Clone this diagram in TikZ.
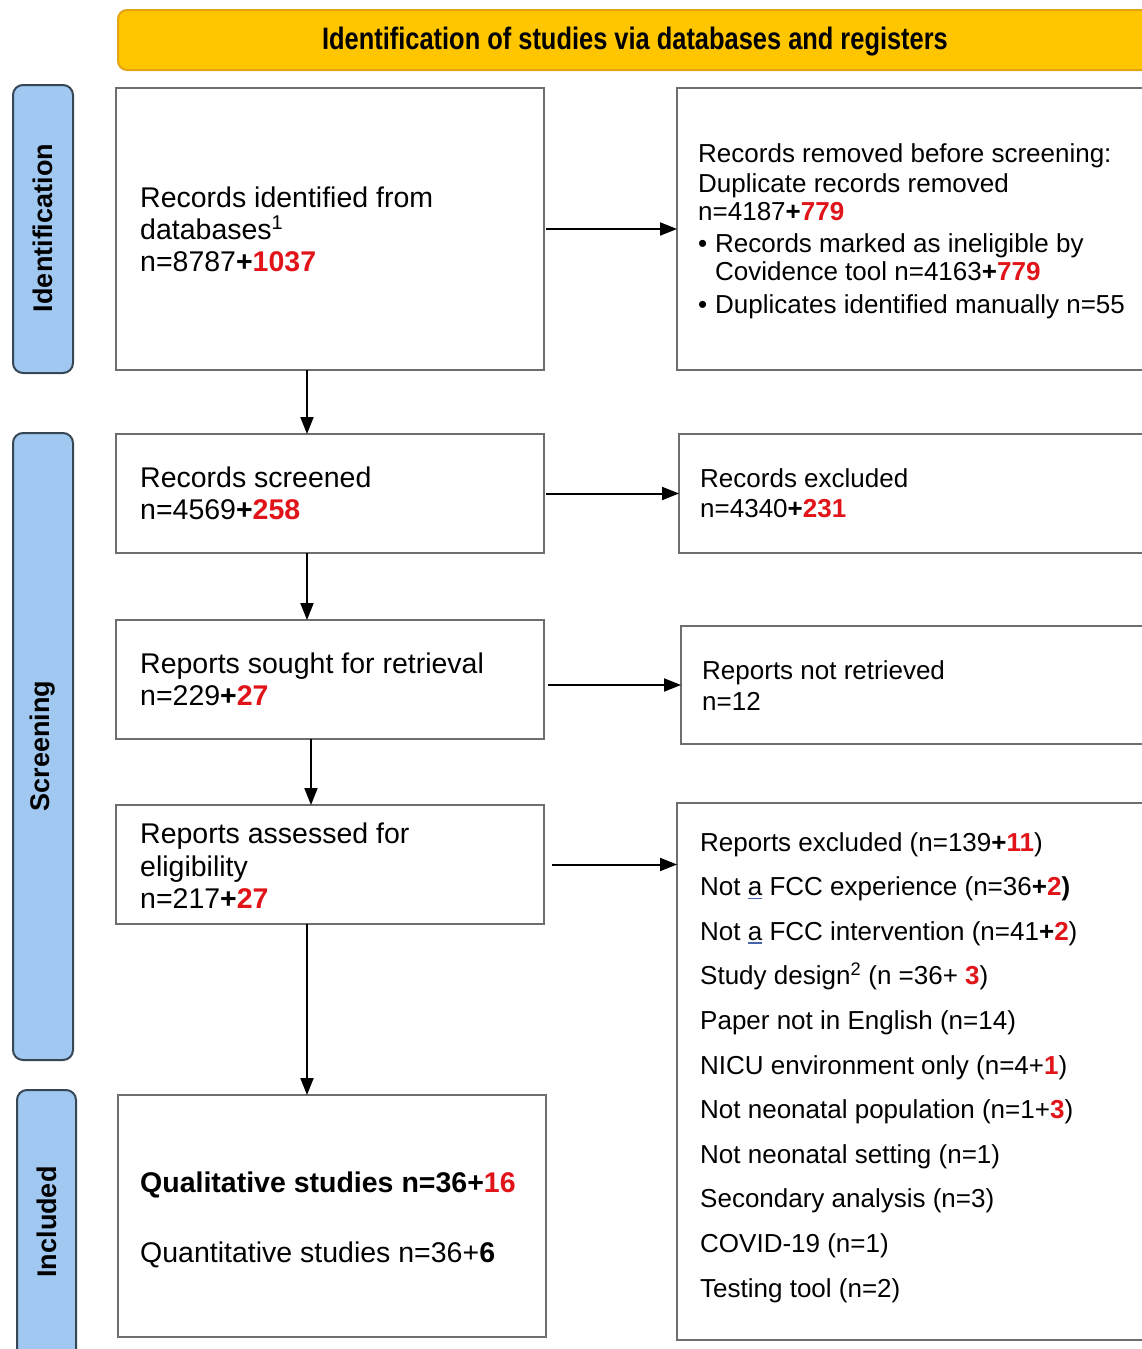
\documentclass[tikz,border=0pt]{standalone}
\usepackage{fontspec}
\usepackage{graphicx}
\setmainfont{Liberation Sans}
\usetikzlibrary{arrows.meta}
\definecolor{pred}{RGB}{225,20,25}
\definecolor{bannerfill}{RGB}{255,198,0}
\definecolor{bannerdraw}{RGB}{225,165,20}
\definecolor{sidefill}{RGB}{160,200,240}
\definecolor{sidedraw}{RGB}{55,70,85}
\definecolor{boxdraw}{RGB}{110,110,110}
\definecolor{ulblue}{RGB}{70,100,170}
\newcommand\rd[1]{\textcolor{pred}{\textbf{#1}}}
\newcommand\pl{\textbf{+}}
\newcommand\ula{\rlap{\textcolor{ulblue}{\rule[-3.5pt]{14pt}{1.4pt}}}a}
\begin{document}
\begin{tikzpicture}[x=1pt,y=-1pt,
  box/.style={draw=boxdraw,line width=2.4pt,fill=white,rectangle,inner sep=0pt,outer sep=0pt,anchor=north west},
  side/.style={draw=sidedraw,fill=sidefill,line width=2pt,rounded corners=10pt},
  arr/.style={line width=2pt,-{Triangle[length=17pt,width=13pt]}},
  tl/.style={anchor=base west,inner sep=0pt,font=\fontsize{28.5}{32}\selectfont},
  tr/.style={anchor=base west,inner sep=0pt,font=\fontsize{26}{30}\selectfont},
  sidetxt/.style={rotate=90,font=\fontsize{27}{30}\selectfont\bfseries,inner sep=0pt}]
\useasboundingbox (0,0) rectangle (1142,1349);
\clip (0,0) rectangle (1142,1349);
% banner
\draw[draw=bannerdraw,fill=bannerfill,line width=2pt,rounded corners=9pt] (118,10) rectangle (1180,70);
\node[anchor=base,inner sep=0pt,font=\fontsize{31}{34}\selectfont\bfseries] (bt) at (635,49)
  {\scalebox{0.82}[1]{Identification of studies via databases and registers}};
% side labels
\draw[side] (13,85) rectangle (73,373);
\node[sidetxt] (l1) at (43,228) {Identification};
\draw[side] (13,433) rectangle (73,1060);
\node[sidetxt] (l2) at (43,746) {Screening};
\draw[side] (17,1090) rectangle (76,1380);
\node[sidetxt] (l3) at (47,1222) {Included};
% boxes
\node[box,minimum width=428pt,minimum height=282pt] (b1) at (116,88) {};
\node[box,minimum width=500pt,minimum height=282pt] (r1) at (677,88) {};
\node[box,minimum width=428pt,minimum height=119pt] (b2) at (116,434) {};
\node[box,minimum width=500pt,minimum height=119pt] (r2) at (679,434) {};
\node[box,minimum width=428pt,minimum height=119pt] (b3) at (116,620) {};
\node[box,minimum width=500pt,minimum height=118pt] (r3) at (681,626) {};
\node[box,minimum width=428pt,minimum height=119pt] (b4) at (116,805) {};
\node[box,minimum width=500pt,minimum height=537pt] (r4) at (677,803) {};
\node[box,minimum width=428pt,minimum height=242pt] (b5) at (118,1095) {};
% arrows
\coordinate (vx) at (307,0);
\coordinate (vy) at (311,0);
\draw[arr] ([xshift=2pt]b1.east) -- (b1.east -| r1.west);
\draw[arr] ([xshift=2pt]b2.east) -- (b2.east -| r2.west);
\draw[arr] ([xshift=4pt]b3.east |- r3.west) -- (r3.west);
\draw[arr] ([xshift=8pt]b4.east) -- (b4.east -| r4.west);
\draw[arr] (b1.south -| vx) -- (b2.north -| vx);
\draw[arr] (b2.south -| vx) -- (b3.north -| vx);
\draw[arr] (b3.south -| vy) -- (b4.north -| vy);
\draw[arr] (b4.south -| vx) -- (b5.north -| vx);
% box 1
\node[tl] (b1a) at (140,207) {Records identified from};
\node[tl] (b1b) at (140,239) {databases\textsuperscript{1}};
\node[tl] (b1c) at (140,271) {n=8787\pl\rd{1037}};
% right 1
\node[tr] (r1a) at (698,162) {Records removed before screening:};
\node[tr] (r1b) at (698,192) {Duplicate records removed};
\node[tr] (r1c) at (698,220) {n=4187\pl\rd{779}};
\node[tr] (r1d) at (698,252) {\makebox[17pt][l]{\textbullet}Records marked as ineligible by};
\node[tr] (r1e) at (715,280) {Covidence tool n=4163\pl\rd{779}};
\node[tr] (r1f) at (698,313) {\makebox[17pt][l]{\textbullet}Duplicates identified manually n=55};
% box 2
\node[tl] (b2a) at (140,487) {Records screened};
\node[tl] (b2b) at (140,519) {n=4569\pl\rd{258}};
\node[tr] (r2a) at (700,487) {Records excluded};
\node[tr] (r2b) at (700,517) {n=4340\pl\rd{231}};
% box 3
\node[tl] (b3a) at (140,673) {Reports sought for retrieval};
\node[tl] (b3b) at (140,705) {n=229\pl\rd{27}};
\node[tr] (r3a) at (702,679) {Reports not retrieved};
\node[tr] (r3b) at (702,710) {n=12};
% box 4
\node[tl] (b4a) at (140,843) {Reports assessed for};
\node[tl] (b4b) at (140,876) {eligibility};
\node[tl] (b4c) at (140,908) {n=217\pl\rd{27}};
% right 4
\node[tr] (r4a) at (700,851) {Reports excluded (n=139\pl\rd{11})};
\node[tr] (r4b) at (700,895.6) {Not \ula{} FCC experience (n=36\pl\rd{2}\textbf{)}};
\node[tr] (r4c) at (700,940.2) {Not \ula{} FCC intervention (n=41\pl\rd{2})};
\node[tr] (r4d) at (700,984.8) {Study design\textsuperscript{2} (n =36+ \rd{3})};
\node[tr] (r4e) at (700,1029.4) {Paper not in English (n=14)};
\node[tr] (r4f) at (700,1074) {NICU environment only (n=4+\rd{1})};
\node[tr] (r4g) at (700,1118.6) {Not neonatal population (n=1+\rd{3})};
\node[tr] (r4h) at (700,1163.2) {Not neonatal setting (n=1)};
\node[tr] (r4i) at (700,1207.8) {Secondary analysis (n=3)};
\node[tr] (r4j) at (700,1252.4) {COVID-19 (n=1)};
\node[tr] (r4k) at (700,1297) {Testing tool (n=2)};
% box 5
\node[tl] (b5a) at (140,1192) {\textbf{Qualitative studies n=36+\textcolor{pred}{16}}};
\node[tl] (b5b) at (140,1262) {Quantitative studies n=36+\textbf{6}};
\end{tikzpicture}
\end{document}
